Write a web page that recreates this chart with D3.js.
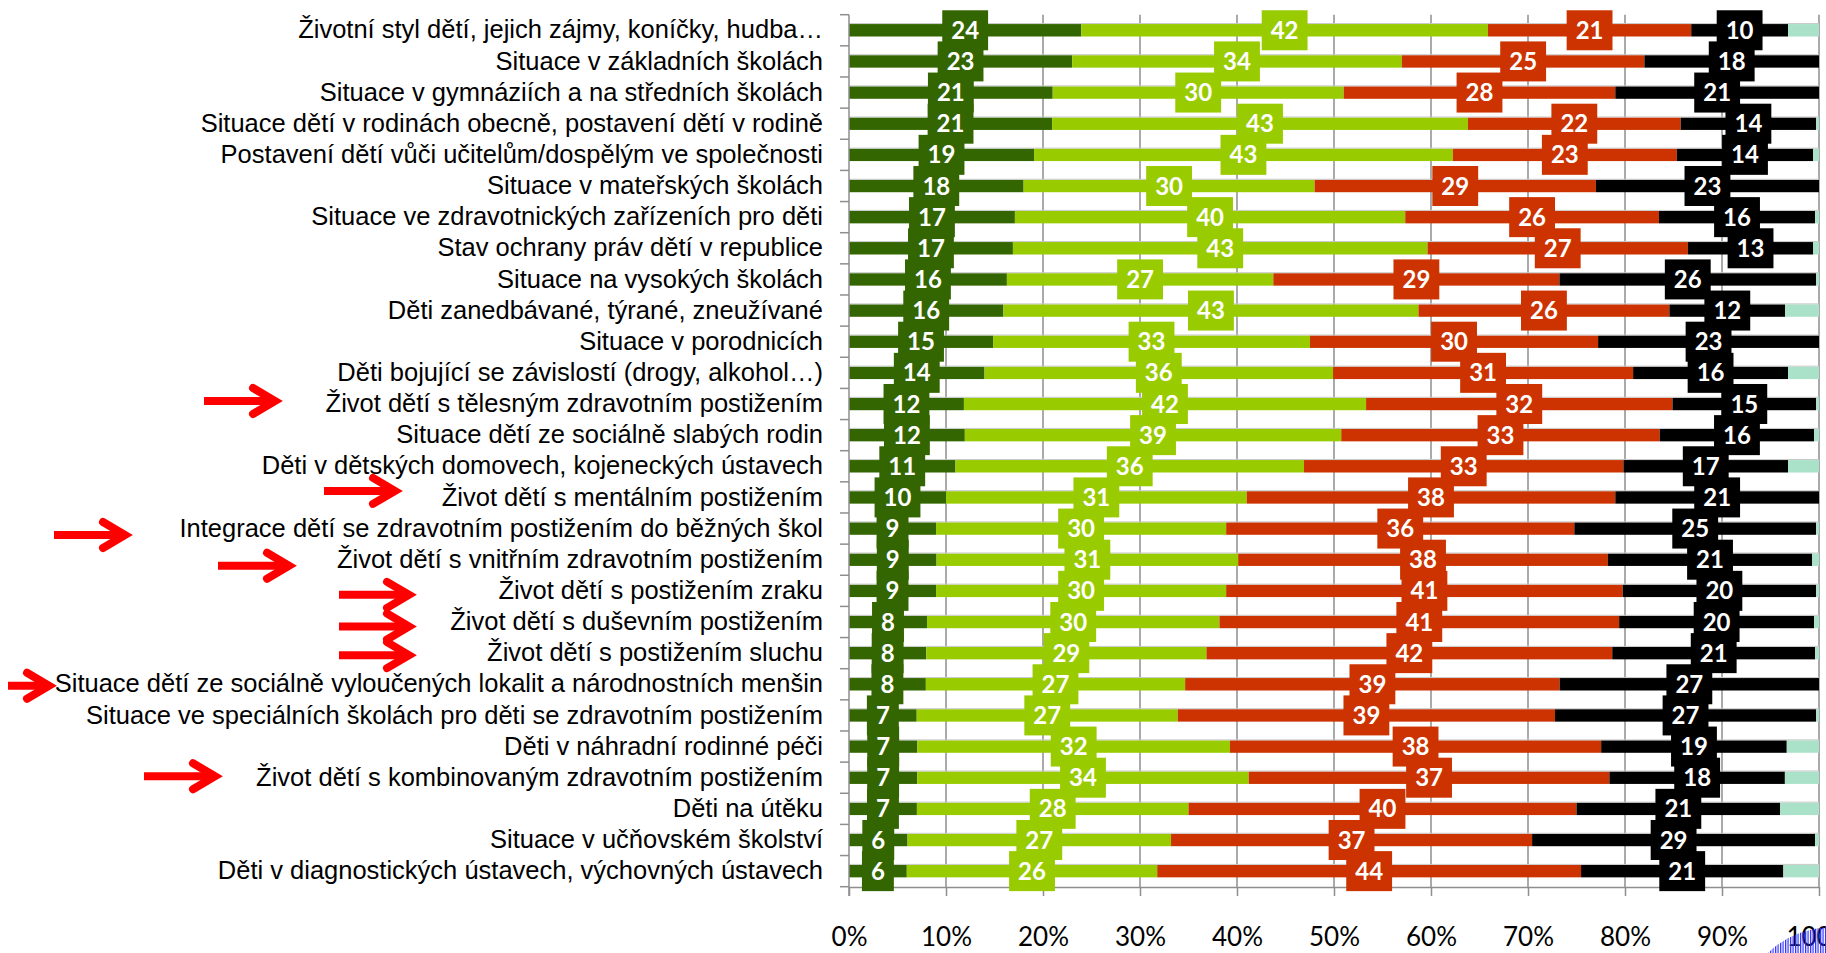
<!DOCTYPE html>
<html>
<head>
<meta charset="utf-8">
<script src="https://cdn.jsdelivr.net/npm/d3@7"></script>
<style>
  body { margin: 0; background: #fff; }
  svg { display: block; }
</style>
</head>
<body>
<div id="chart"></div>
<script>
// categories, top to bottom
const categories = [
    "Životní styl dětí, jejich zájmy, koníčky, hudba…",
    "Situace v základních školách",
    "Situace v gymnáziích a na středních školách",
    "Situace dětí v rodinách obecně, postavení dětí v rodině",
    "Postavení dětí vůči učitelům/dospělým ve společnosti",
    "Situace v mateřských školách",
    "Situace ve zdravotnických zařízeních pro děti",
    "Stav ochrany práv dětí v republice",
    "Situace na vysokých školách",
    "Děti zanedbávané, týrané, zneužívané",
    "Situace v porodnicích",
    "Děti bojující se závislostí (drogy, alkohol…)",
    "Život dětí s tělesným zdravotním postižením",
    "Situace dětí ze sociálně slabých rodin",
    "Děti v dětských domovech, kojeneckých ústavech",
    "Život dětí s mentálním postižením",
    "Integrace dětí se zdravotním postižením do běžných škol",
    "Život dětí s vnitřním zdravotním postižením",
    "Život dětí s postižením zraku",
    "Život dětí s duševním postižením",
    "Život dětí s postižením sluchu",
    "Situace dětí ze sociálně vyloučených lokalit a národnostních menšin",
    "Situace ve speciálních školách pro děti se zdravotním postižením",
    "Děti v náhradní rodinné péči",
    "Život dětí s kombinovaným zdravotním postižením",
    "Děti na útěku",
    "Situace v učňovském školství",
    "Děti v diagnostických ústavech, výchovných ústavech"
];

const darkGreen  = [24, 23, 21, 21, 19, 18, 17, 17, 16, 16, 15, 14, 12, 12, 11, 10, 9, 9, 9, 8, 8, 8, 7, 7, 7, 7, 6, 6];
const lightGreen = [42, 34, 30, 43, 43, 30, 40, 43, 27, 43, 33, 36, 42, 39, 36, 31, 30, 31, 30, 30, 29, 27, 27, 32, 34, 28, 27, 26];
const red        = [21, 25, 28, 22, 23, 29, 26, 27, 29, 26, 30, 31, 32, 33, 33, 38, 36, 38, 41, 41, 42, 39, 39, 38, 37, 40, 37, 44];
const black      = [10, 18, 21, 14, 14, 23, 16, 13, 26, 12, 23, 16, 15, 16, 17, 21, 25, 21, 20, 20, 21, 27, 27, 19, 18, 21, 29, 21];
const other      = [3.2, 0, 0, 0.3, 0.6, 0, 0.4, 0.6, 0.3, 3.5, 0, 3.2, 0.3, 0.5, 3.2, 0, 0.3, 0.7, 0.3, 0.5, 0.4, 0, 0.3, 3.3, 3.5, 4, 0.4, 3.7];

const seriesValues = [darkGreen, lightGreen, red, black, other];
const seriesColors = ["#336600", "#99cc00", "#cc3300", "#000000", "#aae2c9"];
const labelledSeries = 4; // the last series carries no labels

const xTicks = [0, 10, 20, 30, 40, 50, 60, 70, 80, 90, 100];

// red arrows pointing at selected rows
const arrows = [
    {row: 12, x1: 204, x2: 278, dy: -3},
    {row: 15, x1: 324, x2: 398, dy: -6.5},
    {row: 16, x1: 54,  x2: 128, dy: 6.5},
    {row: 17, x1: 218, x2: 292, dy: 6},
    {row: 18, x1: 339, x2: 412, dy: 4},
    {row: 19, x1: 339, x2: 412, dy: 4.5},
    {row: 20, x1: 339, x2: 412, dy: 2},
    {row: 21, x1: 8,   x2: 52,  dy: 1.5},
    {row: 24, x1: 144, x2: 218, dy: -1.5}
];

const width = 1826, height = 953;
const svg = d3.select("#chart").append("svg")
    .attr("width", width)
    .attr("height", height);

const x = d3.scaleLinear().domain([0, 100]).range([849, 1819]);
const y = d3.scaleBand()
    .domain(categories)
    .range([14.7, 886.7])
    .paddingInner(0.6)
    .paddingOuter(0.3);

const axisBottomY = 887;

// stacked, normalised to 100 %
const rows = categories.map((c, i) => {
    const vals = seriesValues.map(s => s[i]);
    const total = d3.sum(vals);
    let acc = 0;
    return vals.map((v, k) => {
        const seg = {cat: c, k: k, v: v, x0: acc / total * 100};
        acc += v;
        seg.x1 = acc / total * 100;
        return seg;
    });
});

// hatch pattern for the corner artefact
const defs = svg.append("defs");
defs.append("pattern")
    .attr("id", "hatch")
    .attr("patternUnits", "userSpaceOnUse")
    .attr("width", 2.5).attr("height", 3)
    .append("rect")
    .attr("width", 1.2).attr("height", 3)
    .attr("fill", "#2a2aff");

// gridlines
svg.append("g")
    .selectAll("line")
    .data(xTicks.filter(t => t > 0))
    .join("line")
    .attr("x1", d => x(d)).attr("x2", d => x(d))
    .attr("y1", y.range()[0]).attr("y2", axisBottomY)
    .attr("stroke", "#8e8e8e")
    .attr("stroke-width", 1.5);

// bars
const barG = svg.append("g");
rows.forEach(r => {
    barG.append("g")
        .selectAll("rect")
        .data(r.filter(s => s.v > 0))
        .join("rect")
        .attr("x", s => x(s.x0))
        .attr("y", s => y(s.cat))
        .attr("width", s => x(s.x1) - x(s.x0))
        .attr("height", y.bandwidth())
        .attr("fill", s => seriesColors[s.k]);
    barG.append("line")
        .attr("x1", x(0)).attr("x2", x(r[r.length - 1].x1))
        .attr("y1", y(r[0].cat) - 0.5).attr("y2", y(r[0].cat) - 0.5)
        .attr("stroke", "#c9c9c9")
        .attr("stroke-width", 1);
});

// x axis
const xAxis = svg.append("g")
    .attr("transform", `translate(0,${axisBottomY})`)
    .call(d3.axisBottom(x).tickValues(xTicks).tickSize(9).tickSizeOuter(0).tickPadding(32)
        .tickFormat(d => d + "%"));
xAxis.select(".domain").attr("stroke", "#8e8e8e").attr("stroke-width", 1.5);
xAxis.selectAll(".tick line").attr("stroke", "#8e8e8e").attr("stroke-width", 1.5);

// corner artefact below the last tick label
svg.append("path")
    .attr("d", `M1768,953 Q1790,931 1826,927 L1826,953 Z`)
    .attr("fill", "url(#hatch)");

xAxis.selectAll(".tick text")
    .attr("font-family", "Lato, 'Open Sans', sans-serif")
    .attr("font-size", 26)
    .attr("fill", "#000");

// y axis: labels at band centres, ticks between categories
const yAxis = svg.append("g")
    .attr("transform", `translate(${x(0)},0)`)
    .call(d3.axisLeft(y).tickSize(0).tickPadding(26));
yAxis.select(".domain").remove();
yAxis.selectAll(".tick text")
    .attr("font-family", "'Liberation Sans', Arial, sans-serif")
    .attr("font-size", 25.5)
    .attr("fill", "#000");

const step = y.step();
const bounds = categories.map(c => y(c) + y.bandwidth() / 2 - step / 2);
bounds.push(bounds[bounds.length - 1] + step);
svg.append("line")
    .attr("x1", x(0)).attr("x2", x(0))
    .attr("y1", bounds[0]).attr("y2", axisBottomY + 9)
    .attr("stroke", "#8e8e8e").attr("stroke-width", 1.5);
svg.append("g")
    .selectAll("line")
    .data(bounds)
    .join("line")
    .attr("x1", x(0) - 9).attr("x2", x(0))
    .attr("y1", d => d).attr("y2", d => d)
    .attr("stroke", "#8e8e8e").attr("stroke-width", 1.5);

// data labels: coloured boxes with white numbers
const labelG = svg.append("g");
for (let k = 0; k < labelledSeries; k++) {
    rows.forEach(r => {
        const s = r[k];
        const cx = x((s.x0 + s.x1) / 2);
        const cy = y(s.cat) + y.bandwidth() / 2;
        const g = labelG.append("g");
        const box = g.append("rect").attr("fill", seriesColors[k]);
        const t = g.append("text")
            .attr("x", cx).attr("y", cy)
            .attr("dy", "0.36em")
            .attr("text-anchor", "middle")
            .attr("font-family", "Lato, 'Open Sans', sans-serif")
            .attr("font-weight", "bold")
            .attr("font-size", 24)
            .attr("fill", "#fff")
            .text(s.v);
        const w = t.node().getComputedTextLength() + 18;
        box.attr("x", cx - w / 2).attr("y", cy - 20)
            .attr("width", w).attr("height", 40);
    });
}

// red arrows
const arrowG = svg.append("g");
arrows.forEach(a => {
    const cy = y(categories[a.row]) + y.bandwidth() / 2 + a.dy;
    arrowG.append("line")
        .attr("x1", a.x1).attr("x2", a.x2 - 6)
        .attr("y1", cy).attr("y2", cy)
        .attr("stroke", "#ff0000").attr("stroke-width", 8);
    arrowG.append("path")
        .attr("d", `M${a.x2 - 25},${cy - 13} L${a.x2 - 3},${cy} L${a.x2 - 25},${cy + 13}`)
        .attr("fill", "none")
        .attr("stroke", "#ff0000")
        .attr("stroke-width", 8)
        .attr("stroke-linecap", "round")
        .attr("stroke-linejoin", "miter");
});
</script>
</body>
</html>
